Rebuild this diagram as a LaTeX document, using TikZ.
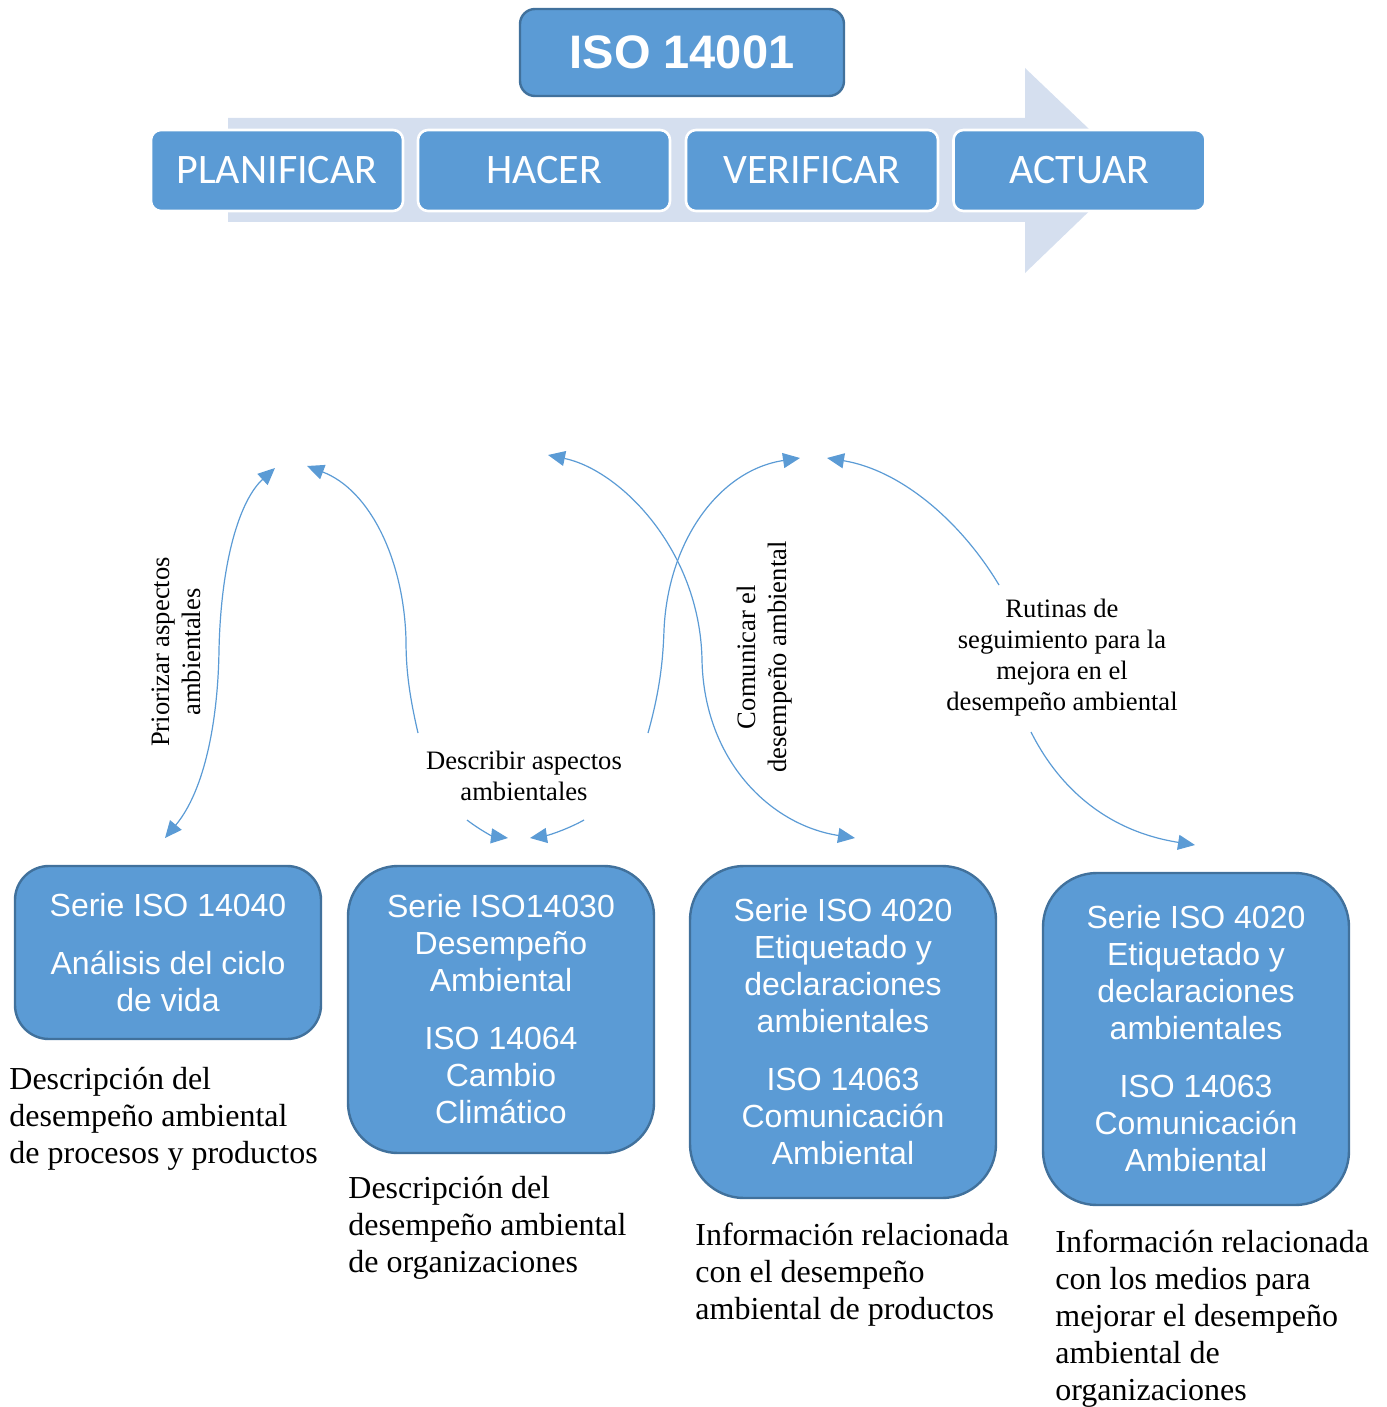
\documentclass[tikz,border=0pt]{standalone}
\usepackage{fontspec}
\setmainfont{Liberation Serif}
\setsansfont{Liberation Sans}
\newfontfamily\calibrifont{Carlito}
\usetikzlibrary{arrows.meta}
\definecolor{boxblue}{HTML}{5B9BD5}
\definecolor{boxedge}{HTML}{41719C}
\definecolor{bandblue}{HTML}{D5DFEF}
\definecolor{linkblue}{HTML}{5B9BD5}

\begin{document}
\begin{tikzpicture}[x=0.5pt,y=-0.5pt,
  >={Triangle[length=8.5pt,width=7.5pt]},
  titlebox/.style={draw=boxedge, line width=1.2pt, fill=boxblue, rounded corners=7.5pt,
    minimum width=162pt, minimum height=43.5pt, inner sep=0pt, text=white,
    font=\sffamily\bfseries\fontsize{23.5}{28}\selectfont},
  phasebox/.style={draw=white, line width=1.3pt, fill=boxblue, rounded corners=5pt,
    minimum width=126pt, minimum height=40.5pt, inner sep=0pt, text=white,
    font=\calibrifont\fontsize{21}{25}\selectfont},
  seriesbox/.style={draw=boxedge, line width=1.2pt, fill=boxblue, inner sep=0pt,
    minimum width=153pt, text=white, align=center,
    font=\sffamily\fontsize{16}{18.5}\selectfont},
  desc/.style={anchor=west, inner sep=0pt, align=left,
    font=\fontsize{16}{18.5}\selectfont},
  linklabel/.style={inner sep=0pt, align=center,
    font=\fontsize{13.3}{15.5}\selectfont},
  link/.style={draw=linkblue, line width=0.6pt}
]
\useasboundingbox (0,0) rectangle (1386,1407);

% process band behind the four phases
\fill[bandblue] (228,118) -- (1025,118) -- (1025,68) -- (1132,170)
  -- (1025,273) -- (1025,222) -- (228,222) -- cycle;

% title
\node[titlebox] (iso) at (682,52.5) {ISO 14001};

% PDCA phases
\node[phasebox] (plan) at (277,170.5) {PLANIFICAR};
\node[phasebox] (do) at (544,170.5) {HACER};
\node[phasebox] (check) at (812,170.5) {VERIFICAR};
\node[phasebox] (act) at (1079.5,170.5) {ACTUAR};

% standards families
\node[seriesbox, minimum height=86.5pt, rounded corners=17pt] (s1) at (168,952.5)
  {Serie ISO 14040\\[10.5pt]Análisis del ciclo\\de vida};
\node[seriesbox, minimum height=143.5pt, rounded corners=25pt] (s2) at (501,1009.5)
  {\rule{0pt}{6pt}Serie ISO14030\\Desempeño\\Ambiental\\[10.5pt]ISO 14064\\Cambio\\Climático};
\node[seriesbox, minimum height=166pt, rounded corners=27pt] (s3) at (843,1032)
  {Serie ISO 4020\\Etiquetado y\\declaraciones\\ambientales\\[10.5pt]ISO 14063\\Comunicación\\Ambiental};
\node[seriesbox, minimum height=166pt, rounded corners=27pt] (s4) at (1196,1039)
  {Serie ISO 4020\\Etiquetado y\\declaraciones\\ambientales\\[10.5pt]ISO 14063\\Comunicación\\Ambiental};

% descriptions
\node[desc] (d1) at (9,1119) {Descripción del\\desempeño ambiental\\de procesos y productos};
\node[desc] (d2) at (348,1228) {Descripción del\\desempeño ambiental\\de organizaciones};
\node[desc] (d3) at (695,1275) {Información relacionada\\con el desempeño\\ambiental de productos};
\node[desc] (d4) at (1055,1319) {Información relacionada\\con los medios para\\mejorar el desempeño\\ambiental de\\organizaciones};

% connector labels
\node[linklabel, rotate=90] (l1) at (176.5,652) {Priorizar aspectos\\ambientales};
\node[linklabel] (l2) at (524,776) {Describir aspectos\\ambientales};
\node[linklabel, rotate=90] (l3) at (765,657) {Comunicar el\\desempeño ambiental};
\node[linklabel] (l4) at (1062,658) {Rutinas de\\seguimiento para la\\mejora en el\\desempeño ambiental};

% connector end points
\coordinate (a1) at (165,838);  \coordinate (a2) at (275,468);
\coordinate (b1) at (418,733);  \coordinate (b2) at (307,466);
\coordinate (m1) at (467,820);  \coordinate (m2) at (508,838);
\coordinate (n1) at (584,820);  \coordinate (n2) at (530,838);
\coordinate (c1) at (648,733);  \coordinate (c2) at (800,458);
\coordinate (g1) at (548,455);  \coordinate (g2) at (855,838);
\coordinate (e1) at (999,585);  \coordinate (e2) at (827,458);
\coordinate (f1) at (1031,732); \coordinate (f2) at (1195,845);

% curved connectors
\draw[link, <->] (a1) .. controls (205,790) and (218,720) .. (219,650)
  .. controls (221,560) and (240,500) .. (a2);
\draw[link, ->] (b1) .. controls (408,690) and (406,665) .. (406,640)
  .. controls (404,560) and (370,490) .. (b2);
\draw[link, ->] (m1) .. controls (480,830) and (492,836) .. (m2);
\draw[link, ->] (n1) .. controls (570,828) and (550,835) .. (n2);
\draw[link, ->] (c1) .. controls (660,690) and (663,660) .. (664,630)
  .. controls (668,540) and (720,470) .. (c2);
\draw[link, <->] (g1) .. controls (620,470) and (700,550) .. (702,660)
  .. controls (704,760) and (770,825) .. (g2);
\draw[link, ->] (e1) .. controls (960,520) and (900,470) .. (e2);
\draw[link, ->] (f1) .. controls (1055,780) and (1100,830) .. (f2);
\end{tikzpicture}
\end{document}
